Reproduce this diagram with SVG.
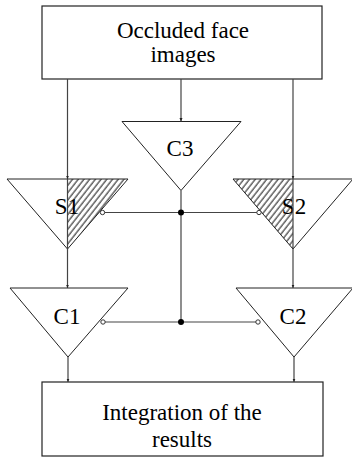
<svg xmlns="http://www.w3.org/2000/svg" width="352" height="458" viewBox="0 0 352 458">
<style>
.box{fill:#fff;stroke:#222;stroke-width:1.2}
.tri{fill:none;stroke:#222;stroke-width:1}
.hatch{fill:url(#hatch);stroke:none}
.lbl{font-family:"Liberation Serif","Times New Roman",serif;font-size:23px;fill:#000;text-anchor:middle}
.ln{fill:none;stroke:#444;stroke-width:1.2}
.arr{marker-end:url(#ah)}
.hole{fill:#fff;stroke:#333;stroke-width:1}
.dot{fill:#000}
</style>
<defs>
<pattern id="hatch" patternUnits="userSpaceOnUse" width="4.5" height="5" patternTransform="rotate(38)">
<line x1="1" y1="0" x2="1" y2="5" stroke="#111" stroke-width="1"/>
</pattern>
<marker id="ah" markerWidth="4" markerHeight="4" refX="3.5" refY="2" orient="auto" markerUnits="userSpaceOnUse">
<path d="M0,0.5 L3.5,2 L0,3.5 Z" fill="#222"/>
</marker>
</defs>

<g id="top">
<rect class="box" x="42" y="6" width="280" height="73"/>
<text class="lbl" x="183" y="38">Occluded face</text>
<text class="lbl" x="183" y="62">images</text>
</g>

<g id="C3">
<polygon class="tri" points="122,121.5 241,121.5 181,190.5"/>
<text class="lbl" x="180" y="156">C3</text>
</g>

<g id="S1">
<polygon class="hatch" points="67.5,179 128,179 67.5,249"/>
<polygon class="tri" points="7,179 128,179 67.5,249"/>
<text class="lbl" x="67" y="214">S1</text>
</g>

<g id="S2">
<polygon class="hatch" points="233,179 293,179 293,249"/>
<polygon class="tri" points="233,179 353,179 293,249"/>
<text class="lbl" x="294" y="214">S2</text>
</g>

<g id="C1">
<polygon class="tri" points="10,288 128,288 68,357"/>
<text class="lbl" x="67" y="324">C1</text>
</g>

<g id="C2">
<polygon class="tri" points="236,288 353,288 294,357"/>
<text class="lbl" x="293" y="324">C2</text>
</g>

<g id="bottom">
<rect class="box" x="42" y="382" width="281" height="74"/>
<text class="lbl" x="182" y="420">Integration of the</text>
<text class="lbl" x="182" y="447">results</text>
</g>

<g id="connectors">
<path class="ln arr" d="M67.5,79 V179"/>
<path class="ln" d="M67.5,179 V249"/>
<path class="ln arr" d="M181,79 V121.5"/>
<path class="ln arr" d="M293,79 V179"/>
<path class="ln" d="M293,179 V249"/>
<path class="ln arr" d="M67.5,249 V288"/>
<path class="ln arr" d="M293,249 V288"/>
<path class="ln" d="M181,190.5 V322"/>
<path class="ln" d="M104,212.5 H257"/>
<path class="ln" d="M105,322 H256"/>
<path class="ln arr" d="M68,357 V382"/>
<path class="ln arr" d="M294,357 V382"/>
<circle class="hole" cx="102.5" cy="212.5" r="2.2"/>
<circle class="hole" cx="259" cy="212.5" r="2.2"/>
<circle class="hole" cx="103" cy="322" r="2.2"/>
<circle class="hole" cx="258" cy="322" r="2.2"/>
<circle class="dot" cx="181" cy="212.5" r="3"/>
<circle class="dot" cx="181" cy="322" r="3"/>
</g>
</svg>
